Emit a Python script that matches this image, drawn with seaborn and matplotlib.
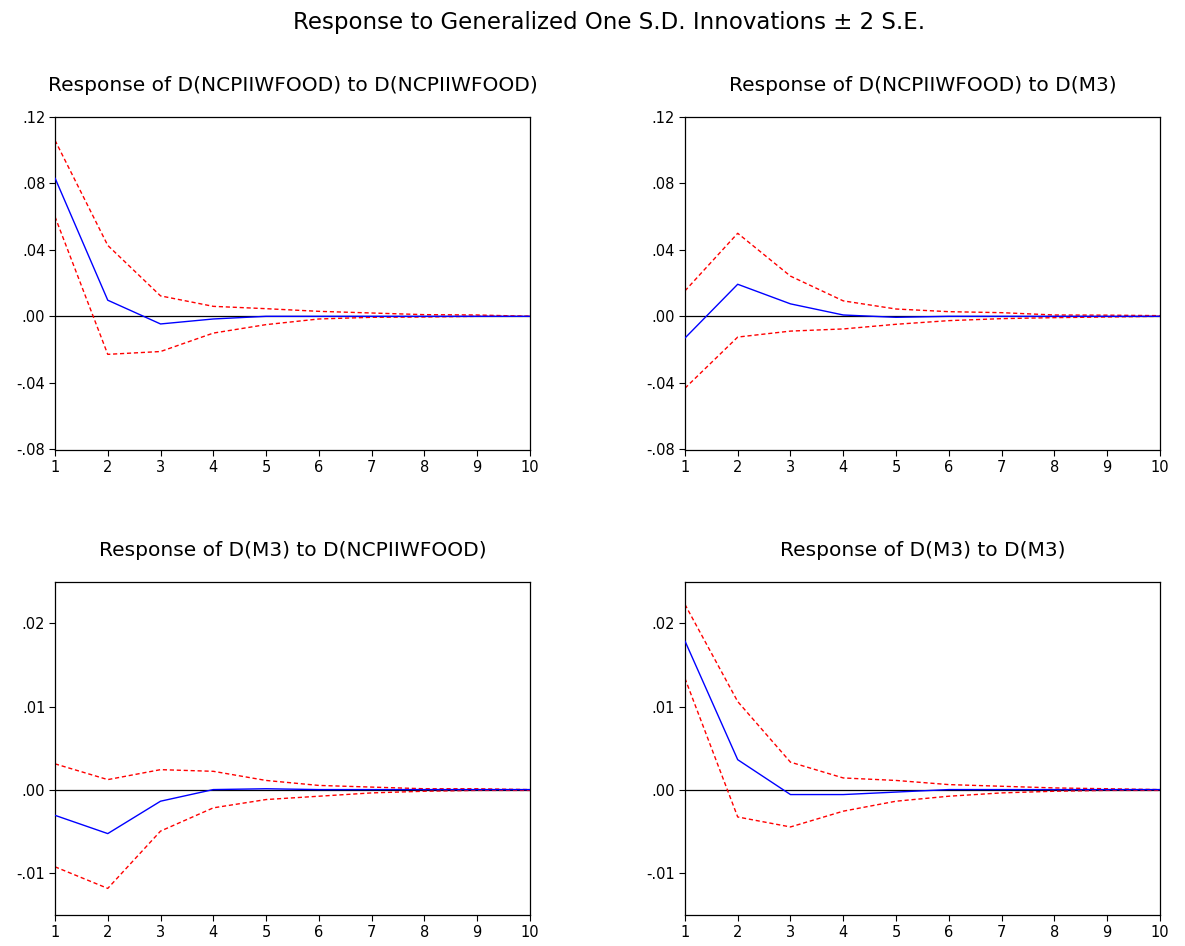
import numpy as np
import pandas as pd
import matplotlib
matplotlib.use("Agg")
import matplotlib.pyplot as plt
import seaborn as sns

periods = list(range(1, 11))

# Response of D(NCPIIWFOOD) to D(NCPIIWFOOD)
food_food = [0.0833, 0.0097, -0.0046, -0.0016, 0.0000, 0.0000, 0.0000, 0.0000, 0.0000, 0.0000]
food_food_hi = [0.1060, 0.0427, 0.0123, 0.0060, 0.0046, 0.0030, 0.0020, 0.0010, 0.0008, 0.0000]
food_food_lo = [0.0600, -0.0229, -0.0212, -0.0101, -0.0050, -0.0016, -0.0006, -0.0004, 0.0000, 0.0000]

# Response of D(NCPIIWFOOD) to D(M3)
food_m3 = [-0.0131, 0.0193, 0.0075, 0.0008, -0.0006, 0.0000, 0.0000, 0.0000, 0.0000, 0.0000]
food_m3_hi = [0.0153, 0.0500, 0.0242, 0.0093, 0.0044, 0.0028, 0.0022, 0.0008, 0.0007, 0.0004]
food_m3_lo = [-0.0433, -0.0125, -0.0089, -0.0076, -0.0048, -0.0026, -0.0014, -0.0008, -0.0004, 0.0000]

# Response of D(M3) to D(NCPIIWFOOD)
m3_food = [-0.0031, -0.0053, -0.0014, 0.0000, 0.0001, 0.0000, 0.0000, 0.0000, 0.0000, 0.0000]
m3_food_hi = [0.0031, 0.0012, 0.0024, 0.0022, 0.0011, 0.0005, 0.0003, 0.0001, 0.0001, 0.0000]
m3_food_lo = [-0.0093, -0.0119, -0.0050, -0.0022, -0.0012, -0.0008, -0.0004, -0.0002, -0.0001, -0.0001]

# Response of D(M3) to D(M3)
m3_m3 = [0.0179, 0.0036, -0.0006, -0.0006, -0.0003, 0.0000, 0.0000, 0.0000, 0.0000, 0.0000]
m3_m3_hi = [0.0223, 0.0106, 0.0033, 0.0014, 0.0011, 0.0006, 0.0004, 0.0002, 0.0001, 0.0000]
m3_m3_lo = [0.0134, -0.0033, -0.0045, -0.0026, -0.0014, -0.0008, -0.0004, -0.0002, -0.0001, -0.0001]

titles = [
    "Response of D(NCPIIWFOOD) to D(NCPIIWFOOD)",
    "Response of D(NCPIIWFOOD) to D(M3)",
    "Response of D(M3) to D(NCPIIWFOOD)",
    "Response of D(M3) to D(M3)",
]
top_ticks = [-0.08, -0.04, 0.00, 0.04, 0.08, 0.12]
bottom_ticks = [-0.01, 0.00, 0.01, 0.02]


def fmt(v):
    s = "%.2f" % v
    return s.replace("0.", ".")


sns.set_style("ticks")
plt.rcParams['font.family'] = ['DejaVu Sans']
plt.rcParams['text.color'] = 'black'
plt.rcParams['xtick.color'] = 'black'
plt.rcParams['ytick.color'] = 'black'

fig = plt.figure(figsize=(11.85, 9.46), dpi=100)
fig.text(0.514, 0.976, "Response to Generalized One S.D. Innovations \u00b1 2 S.E.",
         ha='center', va='center', fontsize=16.5)

panels = [
    (food_food, food_food_hi, food_food_lo, [0.0464, 0.5243], (-0.0805, 0.12), top_ticks),
    (food_m3, food_m3_hi, food_m3_lo, [0.5780, 0.5243], (-0.0805, 0.12), top_ticks),
    (m3_food, m3_food_hi, m3_food_lo, [0.0464, 0.0328], (-0.0151, 0.0250), bottom_ticks),
    (m3_m3, m3_m3_hi, m3_m3_lo, [0.5780, 0.0328], (-0.0151, 0.0250), bottom_ticks),
]

for (resp, hi, lo, pos, ylim, yt), title in zip(panels, titles):
    ax = fig.add_axes([pos[0], pos[1], 0.4008, 0.352])
    df = pd.DataFrame({"period": periods, "resp": resp, "hi": hi, "lo": lo})
    ax.axhline(0, color='black', lw=0.9, zorder=1)
    sns.lineplot(data=df, x="period", y="hi", ax=ax, color='red',
                 lw=1.0, linestyle=(0, (3, 2)), zorder=2)
    sns.lineplot(data=df, x="period", y="lo", ax=ax, color='red',
                 lw=1.0, linestyle=(0, (3, 2)), zorder=2)
    sns.lineplot(data=df, x="period", y="resp", ax=ax, color='blue',
                 lw=1.0, zorder=3)
    ax.set_xlim(1, 10)
    ax.set_ylim(*ylim)
    ax.set_xticks(periods)
    ax.set_yticks(yt)
    ax.set_yticklabels([fmt(v) for v in yt])
    ax.set_xlabel("")
    ax.set_ylabel("")
    ax.tick_params(labelsize=10.5, length=4, width=0.8, direction='out', pad=3)
    for s in ax.spines.values():
        s.set_visible(True)
        s.set_linewidth(0.9)
        s.set_color('black')
    ax.set_title(title, fontsize=14.5, pad=19)

fig.savefig("out.png", dpi=100)
